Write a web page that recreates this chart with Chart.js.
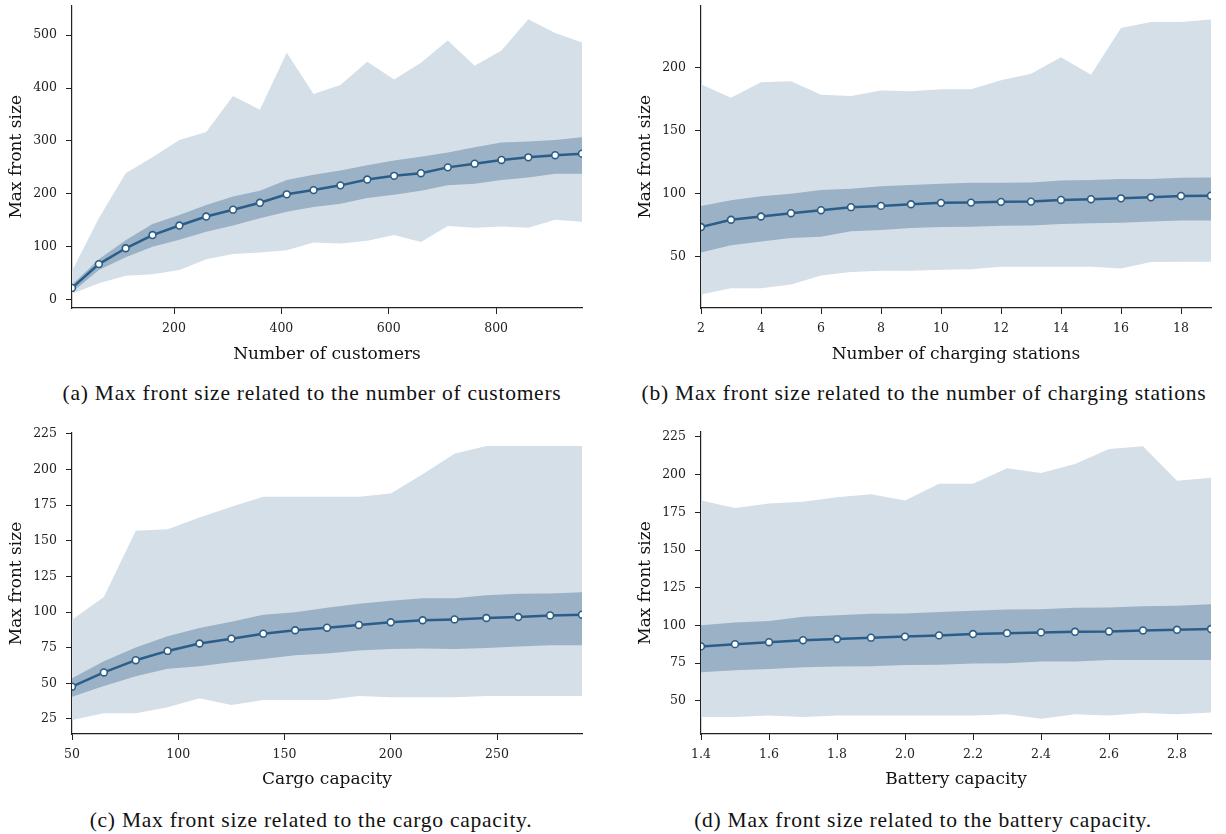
<!DOCTYPE html>
<html>
<head>
<meta charset="utf-8">
<script src="https://cdn.jsdelivr.net/npm/chart.js@4.4.1/dist/chart.umd.min.js"></script>
<style>
  html,body{margin:0;padding:0;background:#fff;}
  #fig{position:relative;width:1226px;height:834px;overflow:hidden;}
  canvas{position:absolute;}
  .cap{position:absolute;transform:translate(-50%,-50%);white-space:nowrap;font-family:"Liberation Serif",serif;font-size:21.5px;letter-spacing:0.75px;color:#111;}
</style>
</head>
<body>
<div id="fig">
  <canvas id="ca"></canvas><canvas id="cb"></canvas><canvas id="cc"></canvas><canvas id="cd"></canvas>
  <div class="cap" style="left:312px;top:393px">(a) Max front size related to the number of customers</div>
  <div class="cap" style="left:924px;top:393px">(b) Max front size related to the number of charging stations</div>
  <div class="cap" style="left:311px;top:820px">(c) Max front size related to the cargo capacity.</div>
  <div class="cap" style="left:923px;top:820px">(d) Max front size related to the battery capacity.</div>
</div>
<script>
// (a) number of customers
const custX    = [10,60,110,160,210,260,310,360,410,460,510,560,610,660,710,760,810,860,910,960];
const custMean = [22,67,97,122,140,157,170,183,199,207,216,227,234,239,250,257,264,269,273,276];
const custSdHi = [28,76,112,143,160,179,195,206,226,236,244,254,263,270,278,288,297,299,302,307];
const custSdLo = [14,56,80,100,113,128,140,154,166,175,181,192,198,206,216,219,226,231,238,238];
const custMax  = [54,154,239,269,302,317,385,359,467,389,406,450,416,448,490,442,471,530,504,486];
const custMin  = [11,31,45,48,56,76,86,89,93,108,106,111,122,109,139,136,138,136,151,147];
const custXTicks = [200,400,600,800];
const custYTicks = [0,100,200,300,400,500];

// (b) number of charging stations
const stX    = [2,3,4,5,6,7,8,9,10,11,12,13,14,15,16,17,18,19];
const stMean = [73.3,79.1,81.7,84.3,86.7,89.1,90.1,91.4,92.5,92.7,93.3,93.5,94.8,95.4,96.1,96.9,98.0,98.2];
const stSdHi = [90,94.6,97.7,99.8,102.7,103.7,105.6,106.6,107.7,108.4,108.5,108.7,110.3,110.6,111.4,111.4,112.4,112.7];
const stSdLo = [53.1,58.9,61.8,64.7,65.7,69.9,71,72.5,73.3,73.6,74.4,74.6,75.7,76.4,76.7,77.8,78.6,78.6];
const stMax  = [186.6,175.9,188.2,189,178.2,177.2,181.6,181.1,182.7,182.7,189.8,195,208,194.2,231.2,236,236,238];
const stMin  = [19.8,24.8,24.8,27.7,34.8,37.7,38.7,38.7,39.5,39.8,41.9,41.9,41.9,41.9,40.5,45.5,45.8,45.8];
const stXTicks = [2,4,6,8,10,12,14,16,18];
const stYTicks = [50,100,150,200];

// (c) cargo capacity
const cargoX    = [50,65,80,95,110,125,140,155,170,185,200,215,230,245,260,275,290];
const cargoMean = [47.6,57.6,66.2,72.7,77.9,81.3,84.8,87.2,89.0,90.9,92.8,94.2,94.8,95.8,96.5,97.6,98.1];
const cargoSdHi = [53.6,65.5,75.1,83,88.8,93.2,98.1,99.9,103,105.8,107.9,109.7,109.7,111.8,112.8,113,113.9];
const cargoSdLo = [40.6,48,55,60.2,62,64.8,67.1,69.7,70.9,73,74.1,74.4,74.1,74.8,75.8,76.7,76.7];
const cargoMax  = [94.6,110.5,157,158,166.3,173.8,180.8,180.8,180.8,180.8,183.1,196.6,211,216.4,216.4,216.4,216.4];
const cargoMin  = [24.3,29,29,33.1,39.4,34.8,38.3,38.3,38.3,41.1,40.1,40.1,40.1,41,41,41,41];
const cargoXTicks = [50,100,150,200,250];
const cargoYTicks = [25,50,75,100,125,150,175,200,225];

// (d) battery capacity
const batX    = [1.4,1.5,1.6,1.7,1.8,1.9,2.0,2.1,2.2,2.3,2.4,2.5,2.6,2.7,2.8,2.9];
const batMean = [86.1,87.6,88.9,90.2,91.0,91.9,92.6,93.4,94.3,94.9,95.4,95.8,96.0,96.7,97.1,97.6];
const batSdHi = [100.2,101.9,103,105.8,106.7,107.8,108,108.9,109.7,110.6,110.8,111.7,111.9,112.8,113,114.1];
const batSdLo = [68.9,70.2,71.1,72.2,72.8,73,73.7,73.9,74.8,75,76.1,76.1,77,77,77,77];
const batMax  = [182.9,177.9,180.9,182,185,187,182.9,194,194,204.2,201.1,207,217,218.9,195.9,197.9];
const batMin  = [39.2,39.2,40.2,39.2,40.2,40.2,40.2,40.2,40.2,41.1,38.1,41.1,40.2,42,41.1,42.2];
const batXTicks = [1.4,1.6,1.8,2.0,2.2,2.4,2.6,2.8];
const batYTicks = [50,75,100,125,150,175,200,225];

const LINE='#2b5d89', DARK='#9bb1c5', LIGHT='#d4dfe8';
const TICKFONT={family:"DejaVu Serif, serif",size:12.5};
const TITLEFONT={family:"DejaVu Serif, serif",size:17};
const pts=(xs,ys)=>xs.map((x,i)=>({x,y:ys[i]}));

function panel(id,o){
  const c=document.getElementById(id);
  c.width=o.w; c.height=o.h; c.style.left=o.left+'px'; c.style.top=o.top+'px';
  const noPad=s=>{s.paddingTop=0;s.paddingBottom=0;s.paddingLeft=0;s.paddingRight=0;};
  const band={pointRadius:0,borderWidth:0,tension:0,clip:0};
  return new Chart(c,{
    type:'line',
    data:{datasets:[
      {data:pts(o.x,o.mean),borderColor:LINE,borderWidth:2.5,tension:0,clip:0,
       pointRadius:3.4,pointBackgroundColor:'#fff',pointBorderColor:LINE,pointBorderWidth:1.6,fill:false},
      {...band,data:pts(o.x,o.sdHi),backgroundColor:DARK,fill:'+1'},
      {...band,data:pts(o.x,o.sdLo),fill:false},
      {...band,data:pts(o.x,o.max),backgroundColor:LIGHT,fill:'+1'},
      {...band,data:pts(o.x,o.min),fill:false}
    ]},
    options:{
      responsive:false,animation:false,devicePixelRatio:1,
      layout:{padding:{top:o.padTop,right:10,left:0,bottom:0}},
      plugins:{legend:{display:false},tooltip:{enabled:false}},
      scales:{
        x:{type:'linear',min:o.xMin,max:o.xMax,
          afterBuildTicks:s=>{s.ticks=o.xTicks.map(v=>({value:v}));},
          afterFit:s=>{s.height=o.xAxisH;noPad(s);},
          ticks:{font:TICKFONT,color:'#222',padding:7,maxRotation:0,autoSkip:false,
            callback:v=>o.xFmt?o.xFmt(v):v},
          grid:{drawOnChartArea:false,drawTicks:true,tickLength:6,color:'#222',lineWidth:1},
          border:{color:'#222',width:1.2},
          title:{display:true,text:o.xTitle,font:TITLEFONT,color:'#111',padding:{top:0,bottom:o.xTitlePad}}},
        y:{type:'linear',min:o.yMin,max:o.yMax,
          afterBuildTicks:s=>{s.ticks=o.yTicks.map(v=>({value:v}));},
          afterFit:s=>{s.width=72;noPad(s);},
          ticks:{font:TICKFONT,color:'#222',padding:9,callback:v=>v},
          grid:{drawOnChartArea:false,drawTicks:true,tickLength:6,color:'#222',lineWidth:1},
          border:{color:'#222',width:1.2},
          title:{display:true,text:'Max front size',font:TITLEFONT,color:'#111',padding:{top:6,bottom:0}}}
      }
    }
  });
}

panel('ca',{left:0,top:0,w:592,h:372,padTop:2,xAxisH:64,xTitlePad:7,
  x:custX,mean:custMean,sdHi:custSdHi,sdLo:custSdLo,max:custMax,min:custMin,
  xMin:10,xMax:960,yMin:-16,yMax:556,xTicks:custXTicks,yTicks:custYTicks,xTitle:'Number of customers'});
panel('cb',{left:629,top:0,w:592,h:372,padTop:2,xAxisH:64,xTitlePad:7,
  x:stX,mean:stMean,sdHi:stSdHi,sdLo:stSdLo,max:stMax,min:stMin,
  xMin:2,xMax:19,yMin:9.1,yMax:249,xTicks:stXTicks,yTicks:stYTicks,xTitle:'Number of charging stations'});
panel('cc',{left:0,top:420,w:592,h:372,padTop:13,xAxisH:58,xTitlePad:2,
  x:cargoX,mean:cargoMean,sdHi:cargoSdHi,sdLo:cargoSdLo,max:cargoMax,min:cargoMin,
  xMin:50,xMax:290,yMin:14.4,yMax:225.6,xTicks:cargoXTicks,yTicks:cargoYTicks,xTitle:'Cargo capacity'});
panel('cd',{left:629,top:420,w:592,h:372,padTop:12,xAxisH:58,xTitlePad:2,
  x:batX,mean:batMean,sdHi:batSdHi,sdLo:batSdLo,max:batMax,min:batMin,
  xMin:1.4,xMax:2.9,yMin:28,yMax:228.3,xTicks:batXTicks,yTicks:batYTicks,xTitle:'Battery capacity',
  xFmt:v=>v.toFixed(1)});
</script>
</body>
</html>
